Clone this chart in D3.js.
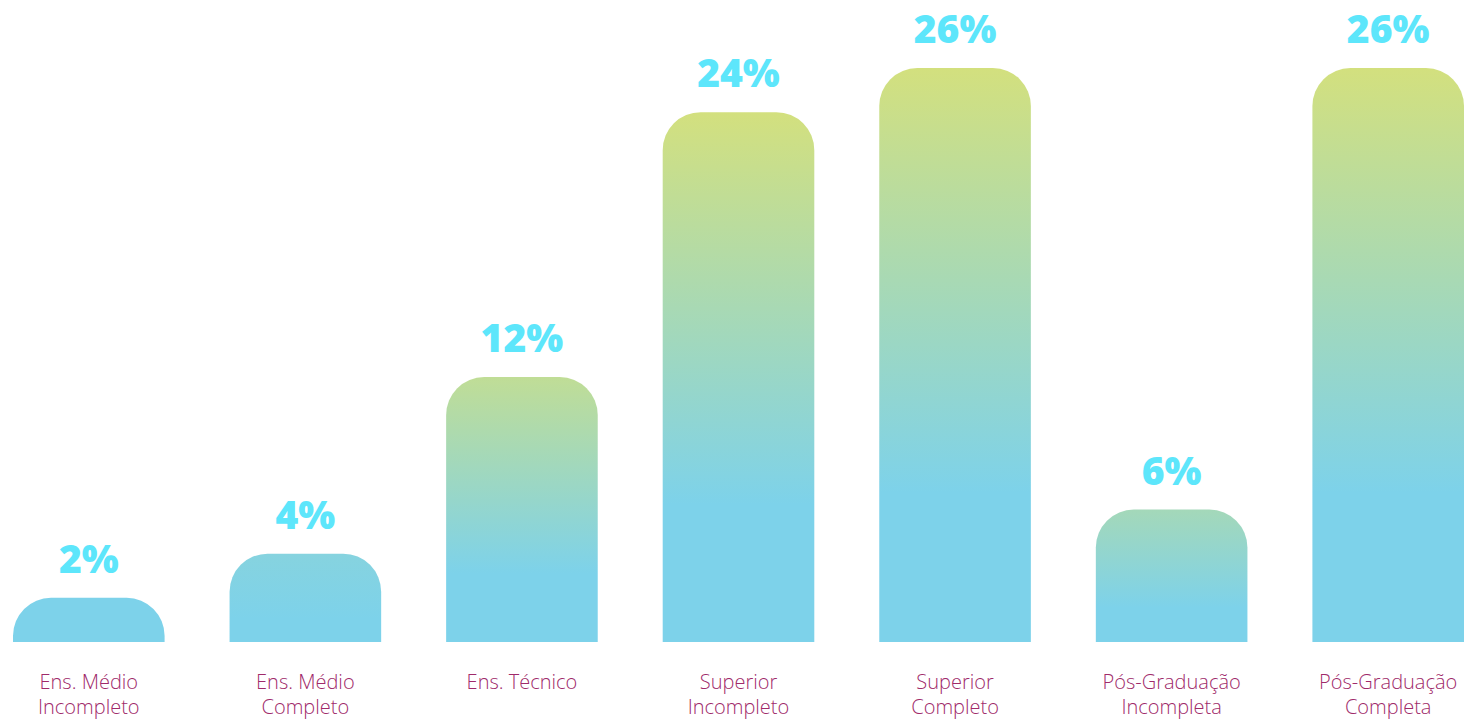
<!DOCTYPE html>
<html>
<head>
    <meta charset="utf-8">
    <title>Escolaridade</title>
    <script type="text/javascript" src="https://cdn.jsdelivr.net/npm/d3@7"></script>
    <style type="text/css">
        html, body {
            margin: 0;
            background: #fff;
        }

        svg {
            display: block;
        }

        .value {
            font-family: "Open Sans", sans-serif;
            font-weight: 800;
            font-size: 39px;
            fill: #5de6fb;
        }

        .cat {
            font-family: "Open Sans", sans-serif;
            font-weight: 300;
            font-size: 20px;
            fill: #a02a6a;
        }
    </style>
</head>
<body>
<script type="text/javascript">
    // data
    var categories = [
        ["Ens. Médio", "Incompleto"],
        ["Ens. Médio", "Completo"],
        ["Ens. Técnico"],
        ["Superior", "Incompleto"],
        ["Superior", "Completo"],
        ["Pós-Graduação", "Incompleta"],
        ["Pós-Graduação", "Completa"]
    ];
    var values = [2, 4, 12, 24, 26, 6, 26];
    var valueLabels = ["2%", "4%", "12%", "24%", "26%", "6%", "26%"];

    var w = 1470, h = 720,
            base = 642, r = 38;

    var blue = "#7dd2ea", lime = "#d3e07e";

    var svg = d3.select("body")
            .append("svg")
                .attr("width", w)
                .attr("height", h);

    var x = d3.scaleBand()
            .domain(d3.range(values.length))
            .range([13, 1464])
            .paddingInner(0.3)
            .paddingOuter(0);

    var y = d3.scaleLinear()
            .domain([0, 26])
            .range([base, 68]);

    // how far the top of each bar leans toward lime
    var tint = d3.scaleLinear()
            .domain([2, 4, 6, 12, 24])
            .range([0, 0.1, 0.45, 0.78, 1])
            .clamp(true);

    var defs = svg.append("defs");

    values.forEach(function (v, i) {
        var g = defs.append("linearGradient")
                .attr("id", "grad" + i)
                .attr("x1", 0).attr("y1", 0)
                .attr("x2", 0).attr("y2", 1);
        g.append("stop").attr("offset", 0)
                .attr("stop-color", d3.interpolateRgb(blue, lime)(tint(v)));
        g.append("stop").attr("offset", 0.74).attr("stop-color", blue);
        g.append("stop").attr("offset", 1).attr("stop-color", blue);
    });

    function barPath(x0, bw, top) {
        var rr = Math.min(r, (base - top), bw / 2);
        return "M" + x0 + "," + base +
                "V" + (top + rr) +
                "A" + rr + "," + rr + " 0 0 1 " + (x0 + rr) + "," + top +
                "H" + (x0 + bw - rr) +
                "A" + rr + "," + rr + " 0 0 1 " + (x0 + bw) + "," + (top + rr) +
                "V" + base + "Z";
    }

    svg.selectAll("path.bar")
            .data(values)
            .enter()
            .append("path")
                .attr("class", "bar")
                .attr("d", function (d, i) {return barPath(x(i), x.bandwidth(), y(d));})
                .attr("fill", function (d, i) {return "url(#grad" + i + ")";});

    svg.selectAll("text.value")
            .data(values)
            .enter()
            .append("text")
                .attr("class", "value")
                .attr("text-anchor", "middle")
                .attr("x", function (d, i) {return x(i) + x.bandwidth() / 2;})
                .attr("y", function (d) {return y(d) - 25;})
                .text(function (d, i) {return valueLabels[i];});

    var cats = svg.selectAll("text.cat")
            .data(categories)
            .enter()
            .append("text")
                .attr("class", "cat")
                .attr("text-anchor", "middle")
                .attr("x", function (d, i) {return x(i) + x.bandwidth() / 2;})
                .attr("y", 689);

    cats.selectAll("tspan")
            .data(function (d) {return d;})
            .enter()
            .append("tspan")
                .attr("x", function () {return d3.select(this.parentNode).attr("x");})
                .attr("dy", function (d, j) {return j ? 25 : 0;})
                .text(function (d) {return d;});
</script>
</body>
</html>
